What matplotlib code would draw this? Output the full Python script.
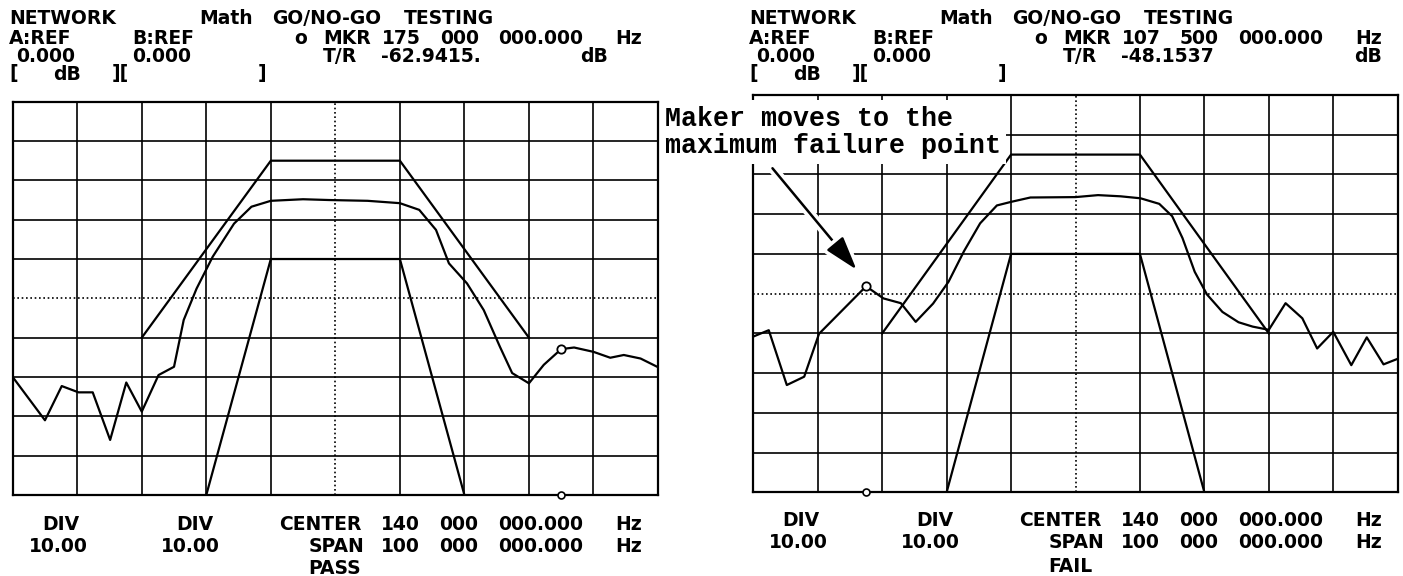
import numpy as np
import matplotlib.pyplot as plt
from matplotlib.patches import Rectangle
import matplotlib.patheffects as pe

W, H = 1403, 576

# screen scale: 90-190 MHz (10 MHz/div), 0 to -100 dB (10 dB/div)
f_start, f_stop, f_center = 90, 190, 140
db_top, db_bottom, db_center = 0, -100, -50
f_lines = np.arange(100, 190, 10)
db_lines = np.arange(-90, 0, 10)

# limit lines (same for both tests)
upper_f = [110, 130, 150, 170]
upper_db = [-60, -15, -15, -60]
lower_f = [120, 130, 150, 160]
lower_db = [-100, -40, -40, -100]

# measured trace, PASS screen
pass_f = [90, 95, 97.6, 100.2, 102.4, 105.1, 107.6, 110, 112.6, 115,
          116.5, 118.5, 121, 124.3, 127, 130, 135, 139, 145, 150,
          153, 155.6, 157.6, 160.4, 163, 165.5, 167.4, 170, 172.3, 175,
          177, 180, 182.6, 184.7, 187.3, 190]
pass_db = [-70, -81, -72.3, -73.9, -73.9, -86, -71.4, -78.8, -69.5, -67.4,
           -55.5, -47.5, -39.4, -31, -26.7, -25.2, -24.8, -25, -25.2, -25.8,
           -27.5, -32.6, -41.1, -46.2, -53, -62.3, -69, -71.6, -66.9, -62.9,
           -62.5, -63.6, -65.1, -64.4, -65.3, -67.5]
pass_mkr = (175.0, -62.9415)

# measured trace, FAIL screen
fail_f = [90, 92.4, 95.2, 97.9, 100.2, 107.5, 110.2, 112.9, 115.2, 117.9,
          120.3, 122.7, 125.2, 127.8, 130, 133, 140, 143.5, 147, 150.1,
          153, 155, 156.6, 158.5, 160.4, 162.8, 165.3, 167.5, 170, 172.6,
          175.2, 177.5, 180, 182.8, 185.2, 187.8, 190]
fail_db = [-60.8, -59.2, -73, -70.9, -60.1, -48.15, -51.2, -52.4, -57.1, -52.5,
           -47, -39.3, -32.3, -27.8, -26.9, -25.8, -25.7, -25.2, -25.5, -26,
           -27.4, -30.5, -36, -44.5, -50.2, -54.6, -57.2, -58.3, -59.1, -52.4,
           -56.2, -63.8, -59.6, -68, -61, -67.8, -66.4]
fail_mkr = (107.5, -48.1537)

fig = plt.figure(figsize=(W / 100, H / 100), dpi=100)
fig.patch.set_facecolor('white')


def px_rect(x0, y0, x1, y1):
    # pixel box (origin top left) -> figure fraction rect
    return [x0 / W, 1 - y1 / H, (x1 - x0) / W, (y1 - y0) / H]


def screen(rect, tr_f, tr_db, mkr):
    ax = fig.add_axes(rect)
    ax.set_xlim(f_start, f_stop)
    ax.set_ylim(db_bottom, db_top)
    ax.set_xticks([])
    ax.set_yticks([])
    for s in ax.spines.values():
        s.set_linewidth(1.6)
    for f in f_lines:
        ls = (0, (1, 1.6)) if f == f_center else '-'
        ax.axvline(f, color='black', lw=1.2, ls=ls, zorder=1)
    for d in db_lines:
        ls = (0, (1, 1.6)) if d == db_center else '-'
        ax.axhline(d, color='black', lw=1.2, ls=ls, zorder=1)
    ax.plot(upper_f, upper_db, color='black', lw=1.6, zorder=2)
    ax.plot(lower_f, lower_db, color='black', lw=1.6, zorder=2)
    ax.plot(tr_f, tr_db, color='black', lw=1.6, zorder=3)
    ax.plot([mkr[0]], [mkr[1]], 'o', ms=6, mfc='white', mec='black', mew=1.3, zorder=4)
    ax.plot([mkr[0]], [db_bottom], 'o', ms=5, mfc='white', mec='black', mew=1.2,
            zorder=4, clip_on=False)
    return ax


ax_l = screen(px_rect(12.7, 101.7, 658, 495), pass_f, pass_db, pass_mkr)
ax_r = screen(px_rect(753.3, 95, 1397.7, 492.3), fail_f, fail_db, fail_mkr)

# analyzer annotation text on a fixed character grid
PITCH = 14.6
CAP = 6.5


def line(x, y, s, size=13.5):
    col = 0
    for word in s.split(' '):
        if word:
            fig.text((x + col * PITCH) / W, 1 - (y + CAP) / H, word, ha='left',
                     va='baseline', fontsize=size, family='DejaVu Sans', weight='bold')
        col += len(word) + 1


rows_top = [18, 37, 55, 73]
rows_bot_l = [523, 545, 567]
rows_bot_r = [520, 542, 565]

for dx, mkr_txt, tr_txt, db_x, rows_bot, verdict in [
        (0, "o MKR 175 000 000.000 Hz", "T/R -62.9415.", 580, rows_bot_l, "PASS"),
        (740, "o MKR 107 500 000.000 Hz", "T/R -48.1537", 1354 - 740, rows_bot_r, "FAIL")]:
    line(9 + dx, rows_top[0], "NETWORK")
    line(199 + dx, rows_top[0], "Math GO/NO-GO TESTING")
    line(9 + dx, rows_top[1], "A:REF")
    line(132 + dx, rows_top[1], "B:REF")
    line(294 + dx, rows_top[1], mkr_txt)
    line(16 + dx, rows_top[2], "0.000")
    line(132 + dx, rows_top[2], "0.000")
    line(323 + dx, rows_top[2], tr_txt)
    line(db_x + dx, rows_top[2], "dB")
    line(9 + dx, rows_top[3], "[  dB  ][        ]")
    line(42 + dx, rows_bot[0], "DIV")
    line(176 + dx, rows_bot[0], "DIV")
    line(279 + dx, rows_bot[0], "CENTER 140 000 000.000 Hz")
    line(29 + dx, rows_bot[1], "10.00")
    line(161 + dx, rows_bot[1], "10.00")
    line(279 + dx, rows_bot[1], "  SPAN 100 000 000.000 Hz")
    line(279 + dx, rows_bot[2], "  " + verdict)

# pasted-in note on the FAIL screen
fig.patches.append(Rectangle((660 / W, 1 - 164 / H), (1006 - 660) / W, (164 - 100) / H,
                             transform=fig.transFigure, facecolor='white',
                             edgecolor='none', zorder=5))
fig.text(665 / W, 1 - 126 / H, "Maker moves to the", fontsize=19.2,
         family='Liberation Mono', weight='bold', va='baseline', ha='left', zorder=6)
fig.text(665 / W, 1 - 153 / H, "maximum failure point", fontsize=19.2,
         family='Liberation Mono', weight='bold', va='baseline', ha='left', zorder=6)
ax_r.annotate("", xy=(106.3, -44.5), xytext=(92.7, -17.9),
              arrowprops=dict(arrowstyle='-|>,head_length=0.8,head_width=0.25',
                              mutation_scale=26, color='black', lw=1.8,
                              path_effects=[pe.withStroke(linewidth=7, foreground='white')]),
              zorder=4)

fig.savefig('out.png', dpi=100)
